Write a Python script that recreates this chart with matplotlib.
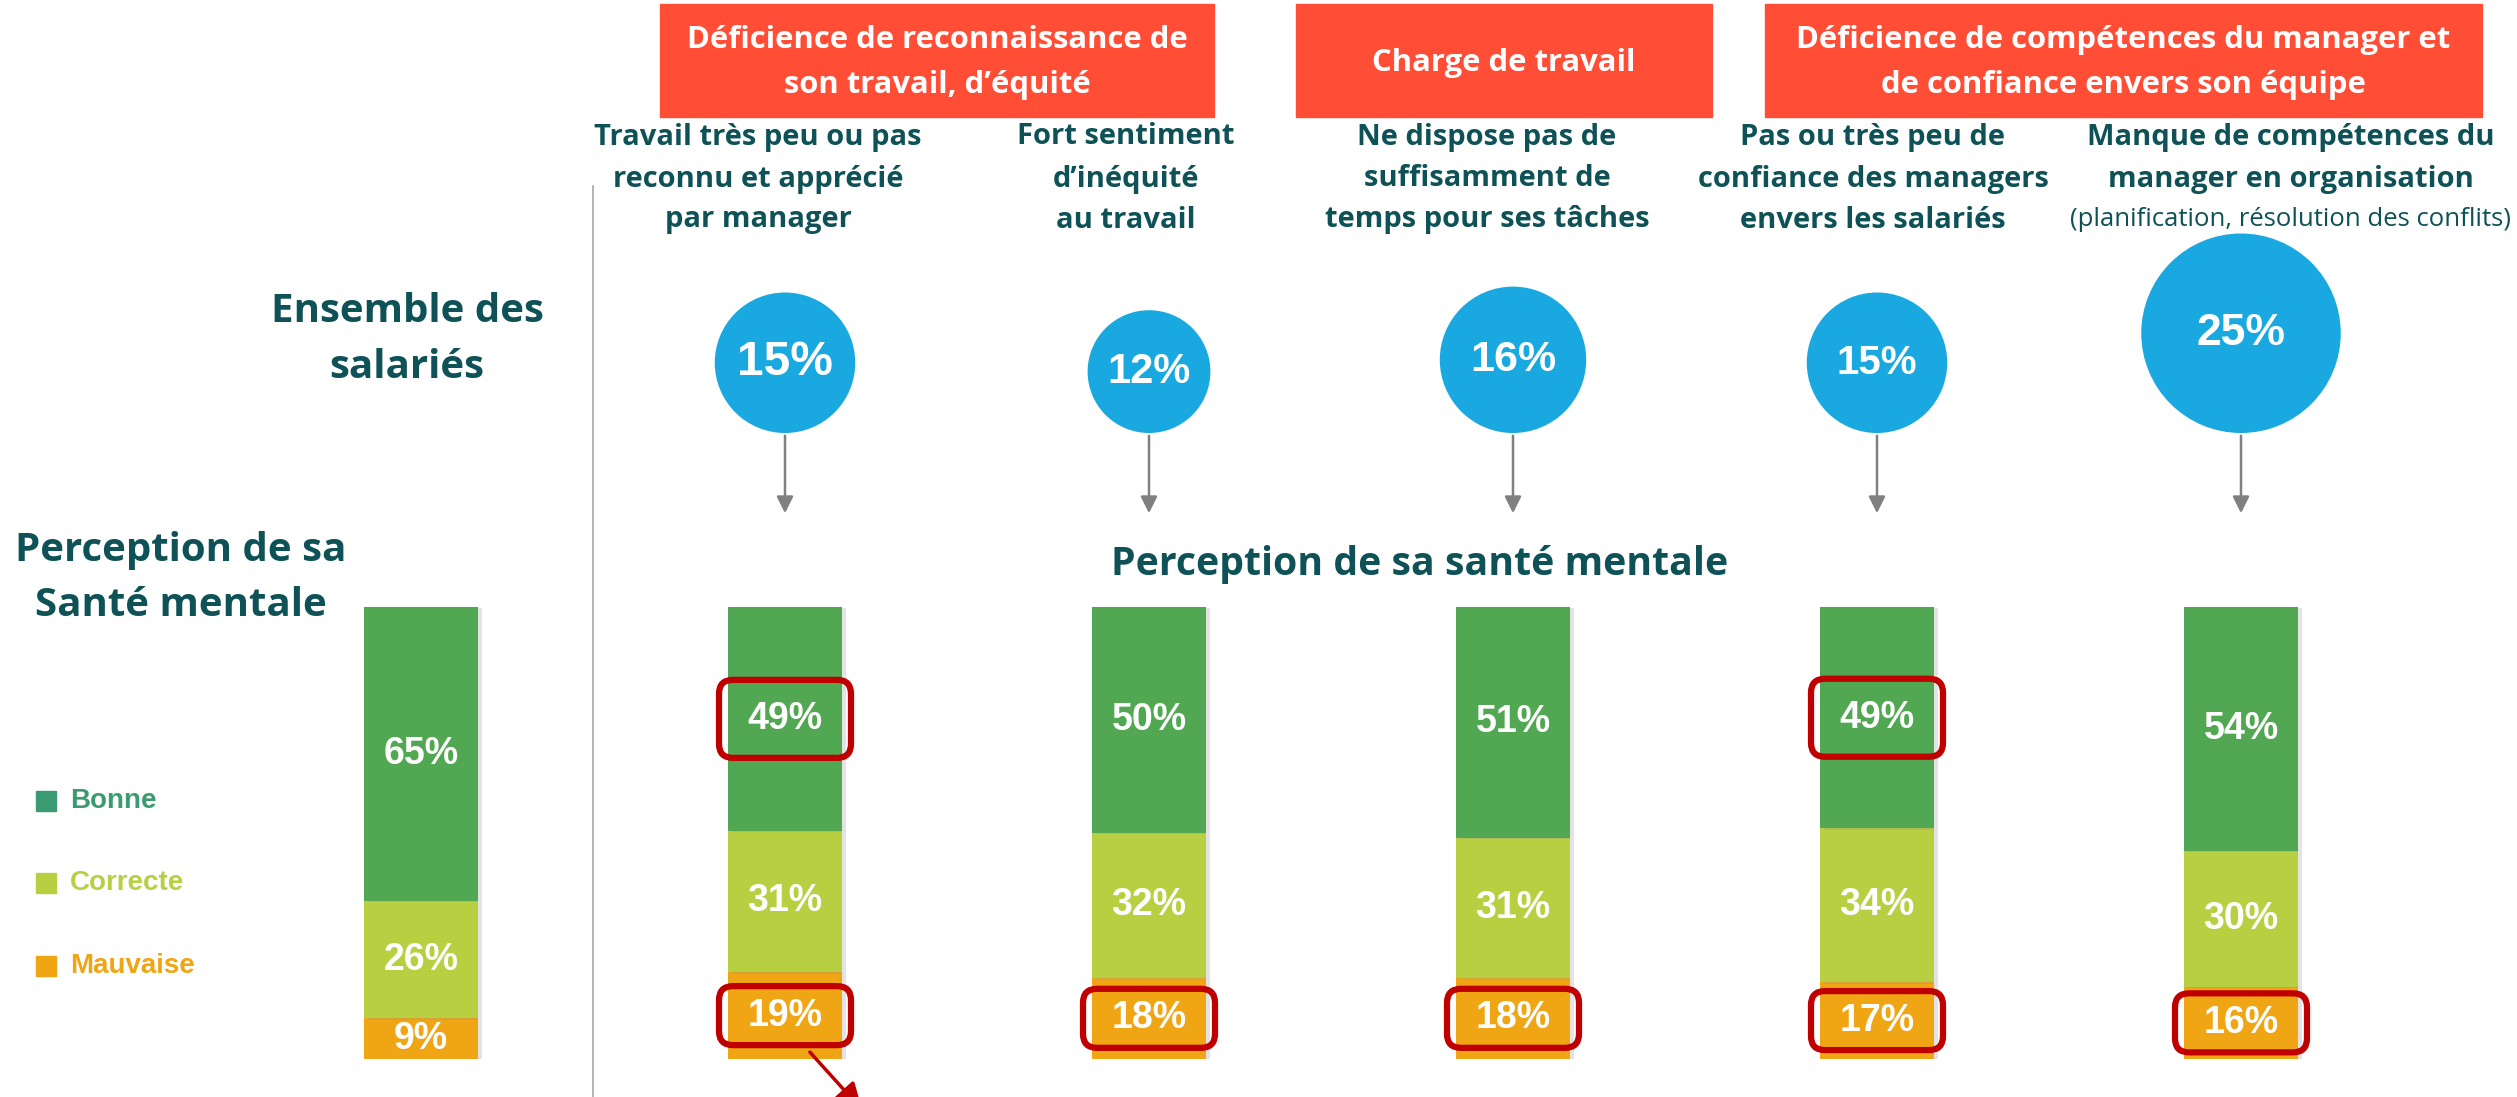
'''
 Perception de sa santé mentale selon les facteurs de risque
'''

import matplotlib
matplotlib.use('Agg')
import matplotlib.pyplot as plt
import matplotlib.patheffects as pe
from matplotlib.patches import Rectangle, FancyBboxPatch
from matplotlib.transforms import blended_transform_factory

# --- data ---
groups = ['Ensemble des salariés',
          'Travail très peu ou pas reconnu et apprécié par manager',
          'Fort sentiment d’inéquité au travail',
          'Ne dispose pas de suffisamment de temps pour ses tâches',
          'Pas ou très peu de confiance des managers envers les salariés',
          'Manque de compétences du manager en organisation']
bonne = [65, 49, 50, 51, 49, 54]
correcte = [26, 31, 32, 31, 34, 30]
mauvaise = [9, 19, 18, 18, 17, 16]
share_of_employees = [15, 12, 16, 15, 25]
highlight_bonne = [False, True, False, False, True, False]
highlight_mauvaise = [False, True, True, True, True, True]

levels = ['Bonne', 'Correcte', 'Mauvaise']
headers = ['Déficience de reconnaissance de\nson travail, d’équité',
           'Charge de travail',
           'Déficience de compétences du manager et\nde confiance envers son équipe']
sub_headers = [['Travail très peu ou pas', 'reconnu et apprécié', 'par manager'],
               ['Fort sentiment', 'd’inéquité', 'au travail'],
               ['Ne dispose pas de', 'suffisamment de', 'temps pour ses tâches'],
               ['Pas ou très peu de', 'confiance des managers', 'envers les salariés'],
               ['Manque de compétences du', 'manager en organisation']]
sub_note = '(planification, résolution des conflits)'

# --- styles ---
GREEN = '#52A852'
LIME = '#B9CF42'
ORANGE = '#F0A614'
LEGEND_GREEN = '#3A9A72'
TEAL = '#0E5257'
RED_HEAD = '#FF4D36'
BLUE = '#19A8DF'
DARK_RED = '#C00000'
TXT = 'Open Sans'
NUM = 'Liberation Sans'

W, H = 2517, 1097
fig = plt.figure(figsize=(W / 100, H / 100), dpi=100)

# bar layer: one slot per group, 0..100 % vertically
ax_bar = fig.add_axes([0, 1 - 1059 / H, 1, 452 / H])
ax_bar.set_xlim(-421 / 364, (W - 421) / 364)
ax_bar.set_ylim(0, 100)
ax_bar.axis('off')

# pixel-coordinate layer for the decorations, drawn above the bars
ax = fig.add_axes([0, 0, 1, 1])
ax.set_xlim(0, W)
ax.set_ylim(H, 0)
ax.axis('off')
ax.set_zorder(3)

slots = list(range(len(groups)))
totals = [b + c + m for b, c, m in zip(bonne, correcte, mauvaise)]
pct_b = [v / t * 100 for v, t in zip(bonne, totals)]
pct_c = [v / t * 100 for v, t in zip(correcte, totals)]
pct_m = [v / t * 100 for v, t in zip(mauvaise, totals)]

shadow = [pe.SimplePatchShadow(offset=(3, -1), shadow_rgbFace='#909090', alpha=0.25), pe.Normal()]
bottoms = [0] * len(groups)
for pct, raw, color in [(pct_m, mauvaise, ORANGE), (pct_c, correcte, LIME), (pct_b, bonne, GREEN)]:
    bars = ax_bar.bar(slots, pct, bottom=bottoms, width=114 / 364, color=color, zorder=2)
    for bar in bars:
        bar.set_path_effects(shadow)
    for i in slots:
        ax_bar.text(i, bottoms[i] + pct[i] / 2, f'{raw[i]}%', ha='center', va='center',
                    color='white', fontsize=27, fontweight='bold', family=NUM, zorder=4)
    bottoms = [b + p for b, p in zip(bottoms, pct)]

# red frames around the highlighted values
def frame(slot, y_value, height):
    cx, cy = ax.transData.inverted().transform(ax_bar.transData.transform((slot, y_value)))
    ax.add_patch(FancyBboxPatch((cx - 66, cy - height / 2), 132, height,
                                boxstyle='round,pad=0,rounding_size=14',
                                fc='none', ec=DARK_RED, lw=4.5, zorder=5))

for i in slots:
    if highlight_bonne[i]:
        frame(i, pct_m[i] + pct_c[i] + pct_b[i] / 2, 78)
    if highlight_mauvaise[i]:
        frame(i, pct_m[i] / 2, 59)

ax.annotate('', xy=(864, 1112), xytext=(808, 1050), annotation_clip=False,
            arrowprops=dict(arrowstyle='-|>', color=DARK_RED, lw=2.5, mutation_scale=40))

# bubbles: share of employees concerned
trans = blended_transform_factory(ax_bar.transData, ax.transData)
bubble_fs = [34.5, 30, 31, 29, 32]
for k, v in enumerate(share_of_employees):
    r = 26 + 2.95 * v
    cy = 433 - r
    ax.scatter([k + 1], [cy], s=(2 * r * 0.72) ** 2, color=BLUE, transform=trans,
               edgecolors='none', zorder=3)
    ax.text(k + 1, cy, f'{v}%', transform=trans, ha='center', va='center', color='white',
            fontsize=bubble_fs[k], fontweight='bold', family=NUM, zorder=4)
    ax.annotate('', xy=(k + 1, 516), xytext=(k + 1, 433), xycoords=trans, textcoords=trans,
                arrowprops=dict(arrowstyle='-|>', color='#808080', lw=1.8, mutation_scale=25))

# header boxes
head_boxes = [(660, 1214), (1296, 1712), (1765, 2482)]
for (x0, x1), text in zip(head_boxes, headers):
    ax.add_patch(Rectangle((x0, 4), x1 - x0, 113, color=RED_HEAD, zorder=1))
    lines = text.split('\n')
    ys = [63] if len(lines) == 1 else [40, 85]
    for line, y in zip(lines, ys):
        ax.text((x0 + x1) / 2, y, line, ha='center', va='center', color='white',
                fontsize=22.3, fontweight='bold', family=TXT)

# sub headers
sub_x = [758, 1126, 1487, 1873, 2291]
for x, lines in zip(sub_x, sub_headers):
    for line, y in zip(lines, [137, 179, 220]):
        ax.text(x, y, line, ha='center', va='center', color=TEAL,
                fontsize=21, fontweight='bold', family=TXT)
ax.text(sub_x[-1], 219, sub_note, ha='center', va='center', color=TEAL,
        fontsize=18.5, family=TXT)

# left side titles
for line, y in zip(['Ensemble des', 'salariés'], [312, 368]):
    ax.text(407, y, line, ha='center', va='center', color=TEAL,
            fontsize=29, fontweight='bold', family=TXT)
for line, y in zip(['Perception de sa', 'Santé mentale'], [550, 606]):
    ax.text(181, y, line, ha='center', va='center', color=TEAL,
            fontsize=29, fontweight='bold', family=TXT)
ax.text(1420, 565, 'Perception de sa santé mentale', ha='center', va='center',
        color=TEAL, fontsize=28.3, fontweight='bold', family=TXT)

# legend
for label, color, y in zip(levels, [LEGEND_GREEN, LIME, ORANGE], [801, 883, 966]):
    ax.add_patch(Rectangle((36, y - 10), 20, 20, color=color))
    ax.text(70, y, label, ha='left', va='center', color=color,
            fontsize=20, fontweight='bold', family=NUM)

# separator
ax.plot([593, 593], [186, H], color='#A6A6A6', lw=1.2)

fig.savefig('out.png', dpi=100)
